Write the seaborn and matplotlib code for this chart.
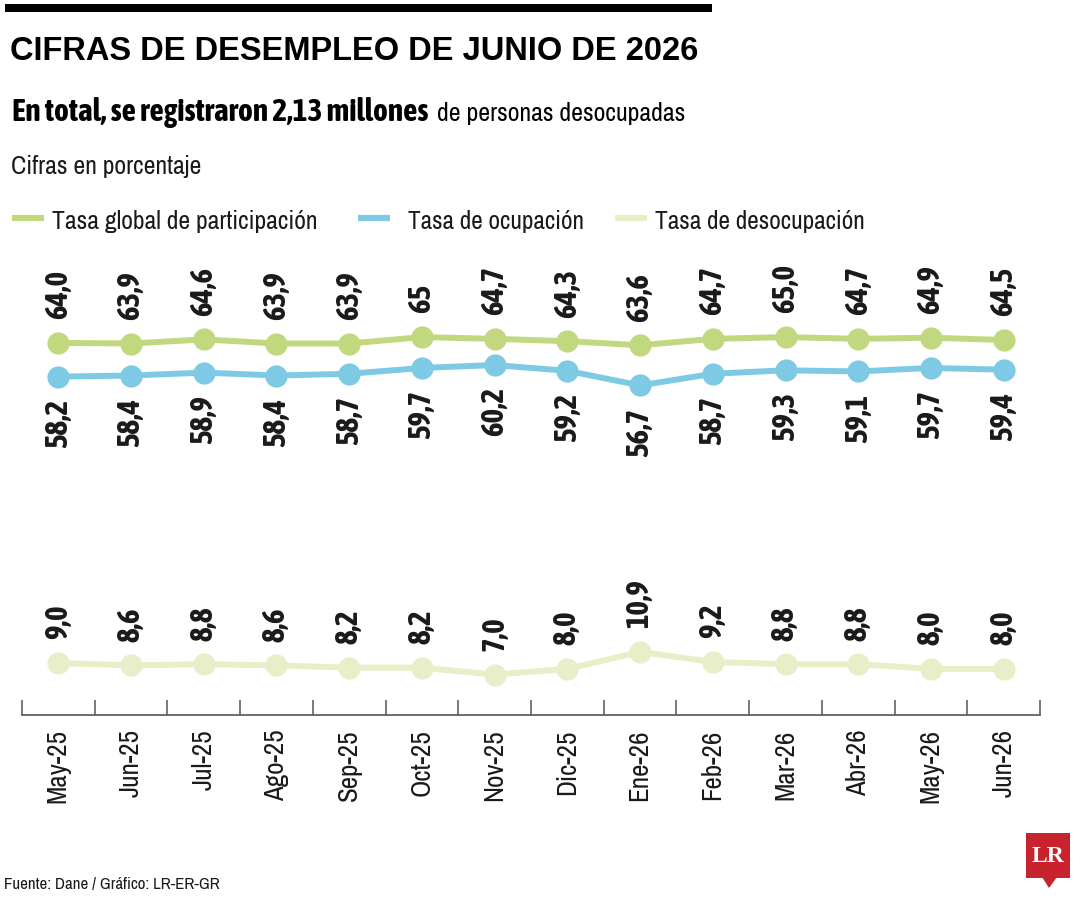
import matplotlib
matplotlib.use("Agg")
import matplotlib.pyplot as plt
from matplotlib import font_manager
from matplotlib.patches import Rectangle, Polygon
from matplotlib.lines import Line2D
import pandas as pd
import seaborn as sns

# Data (DANE)
months = ["May-25", "Jun-25", "Jul-25", "Ago-25", "Sep-25", "Oct-25", "Nov-25",
          "Dic-25", "Ene-26", "Feb-26", "Mar-26", "Abr-26", "May-26", "Jun-26"]
participacion = [64.0, 63.9, 64.6, 63.9, 63.9, 65.0, 64.7, 64.3, 63.6, 64.7, 65.0, 64.7, 64.9, 64.5]
ocupacion = [58.2, 58.4, 58.9, 58.4, 58.7, 59.7, 60.2, 59.2, 56.7, 58.7, 59.3, 59.1, 59.7, 59.4]
desocupacion = [9.0, 8.6, 8.8, 8.6, 8.2, 8.2, 7.0, 8.0, 10.9, 9.2, 8.8, 8.8, 8.0, 8.0]
series_names = ["Tasa global de participación", "Tasa de ocupación", "Tasa de desocupación"]
label_overrides = {("Tasa global de participación", 5): "65"}

colors = {"Tasa global de participación": "#c1d87e",
          "Tasa de ocupación": "#7ecae4",
          "Tasa de desocupación": "#e8eec8"}
label_side = {"Tasa global de participación": "up",
              "Tasa de ocupación": "down",
              "Tasa de desocupación": "up"}

rows = []
for name, vals in zip(series_names, [participacion, ocupacion, desocupacion]):
    for i, v in enumerate(vals):
        rows.append({"pos": i, "mes": months[i], "serie": name, "valor": v})
df = pd.DataFrame(rows)

sns.set_style("white")

# condensed faces available (the original uses a condensed sans)
weights = {}
for f in font_manager.fontManager.ttflist:
    if "Narrow" in f.name or "Condensed" in f.name:
        w = f.weight if isinstance(f.weight, int) else font_manager.weight_dict.get(f.weight, 400)
        weights.setdefault(f.name, set()).add(w)

regular_family = "Roboto"
for name, ws in sorted(weights.items()):
    if 400 in ws:
        regular_family = name
        break
bold_family = "Liberation Sans"
for name, ws in sorted(weights.items()):
    if max(ws) >= 600:
        bold_family = name
        break
LIGHT = dict(family=[regular_family, "DejaVu Sans"], fontweight="normal")
if "Open Sans Condensed" in weights and min(weights["Open Sans Condensed"]) <= 300:
    LIGHT = dict(family=["Open Sans Condensed", "DejaVu Sans"], fontweight="light")
BOLD = dict(family=[bold_family, "DejaVu Sans"], fontweight="bold")
TITLE = dict(family=["Liberation Sans", "DejaVu Sans"], fontweight="bold")
plt.rcParams["font.family"] = LIGHT["family"]

W, H = 1080, 900
fig = plt.figure(figsize=(W / 100, H / 100), dpi=100)
renderer = fig.canvas.get_renderer()


def px(x, y):
    return x / W, 1 - y / H


def size_for(s, width, **kw):
    t = fig.text(0, 0, s, fontsize=20, **kw)
    w = t.get_window_extent(renderer).width
    t.remove()
    return 20 * width / w


def fit_text(x, y, s, width, **kw):
    t = fig.text(*px(x, y), s, va="baseline", ha="left", fontsize=20, **kw)
    w = t.get_window_extent(renderer).width
    t.set_fontsize(20 * width / w)
    return t


# axes placed so that 0 sits on the baseline at y=715 and 5.82 px per unit
ax = fig.add_axes([22 / W, 1 - 715.4 / H, (1040 - 22) / W, 465.6 / H])
sns.lineplot(data=df, x="pos", y="valor", hue="serie", palette=colors,
             marker="o", markersize=16, markeredgewidth=0, linewidth=4.3,
             sort=False, legend=False, ax=ax)
ax.set_xlim(-0.5, len(months) - 0.5)
ax.set_ylim(0, 80)
ax.set_xlabel("")
ax.set_ylabel("")
ax.set_yticks([])
for side in ["top", "right", "left"]:
    ax.spines[side].set_visible(False)
ax.spines["bottom"].set_color("#555555")
ax.spines["bottom"].set_linewidth(1.2)
tick_size = size_for("May-25", 74, **LIGHT)
ax.set_xticks(range(len(months)))
ax.set_xticklabels(months, rotation=90, fontsize=tick_size, color="#1a1a1a", **LIGHT)
ax.tick_params(axis="x", which="major", length=0, pad=10)
ax.set_xticks([i - 0.5 for i in range(len(months) + 1)], minor=True)
ax.tick_params(axis="x", which="minor", bottom=True, direction="in", length=11,
               width=1.1, color="#555555")
ax.patch.set_alpha(0)

# value labels
val_size = size_for("64,0", 49, **BOLD)
for _, r in df.iterrows():
    txt = label_overrides.get((r["serie"], r["pos"]), f"{r['valor']:.1f}".replace(".", ","))
    up = label_side[r["serie"]] == "up"
    ax.annotate(txt, (r["pos"], r["valor"]), xytext=(0, 17 if up else -16),
                textcoords="offset points", rotation=90, ha="center",
                va="bottom" if up else "top", fontsize=val_size,
                color="#1a1a1a", annotation_clip=False, **BOLD)

# header
fig.add_artist(Rectangle(px(5, 12), 707 / W, 8 / H, transform=fig.transFigure,
                         color="black", lw=0))
fit_text(10, 60, "CIFRAS DE DESEMPLEO DE JUNIO DE 2026", 690, color="black", **TITLE)
fit_text(12, 121, "En total, se registraron 2,13 millones", 415, color="black", **BOLD)
fit_text(437, 121, "de personas desocupadas", 248, color="black", **LIGHT)
fit_text(11, 174, "Cifras en porcentaje", 190, color="#1a1a1a", **LIGHT)

# legend
legend_pos = [(12, 44, 52, 266), (358, 390, 408, 176), (615, 647, 655, 210)]
for name, (x0, x1, tx, tw) in zip(series_names, legend_pos):
    fig.add_artist(Line2D([x0 / W, x1 / W], [1 - 218 / H] * 2, color=colors[name],
                          lw=4.5, solid_capstyle="butt", transform=fig.transFigure))
    fit_text(tx, 229, name, tw, color="#1a1a1a", **LIGHT)

# footer
fit_text(4, 889, "Fuente: Dane / Gráfico: LR-ER-GR", 215, color="#1a1a1a", **LIGHT)
fig.add_artist(Rectangle(px(1026, 878), 44 / W, 45 / H, transform=fig.transFigure,
                         color="#c8232c", lw=0))
fig.add_artist(Polygon([px(1042, 877), px(1057, 877), px(1049, 888)], closed=True,
                       transform=fig.transFigure, color="#c8232c", lw=0))
fig.text(*px(1048, 856), "LR", color="white", fontsize=17, fontweight="bold",
         family=["Liberation Serif", "DejaVu Serif"], ha="center", va="center")

fig.savefig("out.png", dpi=100, facecolor="white")
